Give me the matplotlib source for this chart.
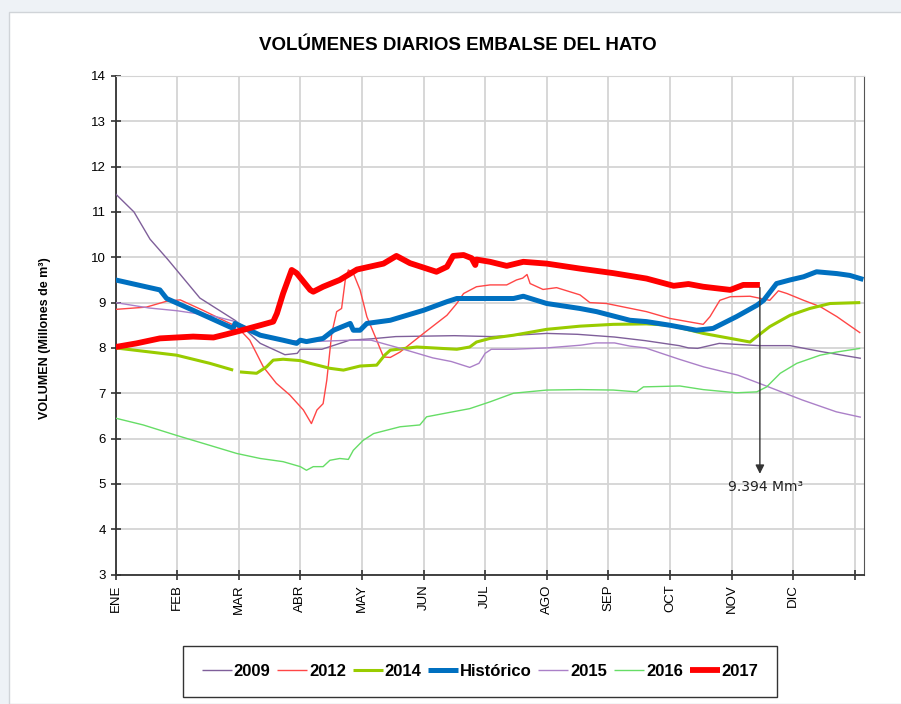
import numpy as np
import matplotlib
matplotlib.use('Agg')
import matplotlib.pyplot as plt
from matplotlib.patches import Rectangle

# months on the x axis (0 = ENE, 12 = end of year)
months = ['ENE', 'FEB', 'MAR', 'ABR', 'MAY', 'JUN', 'JUL', 'AGO', 'SEP', 'OCT', 'NOV', 'DIC', '']

x2009 = [0, 0.3, 0.56, 0.85, 1.37, 1.95, 2.35, 2.75, 2.95, 3.0, 3.35, 3.8, 4.15, 4.55, 5.5, 6.1,
         6.5, 7.0, 7.5, 8.1, 8.6, 9.15, 9.3, 9.45, 9.8, 10.45, 10.95, 11.45, 12.1]
y2009 = [11.4, 11.0, 10.4, 9.95, 9.1, 8.6, 8.1, 7.85, 7.88, 7.97, 7.97, 8.17, 8.2, 8.25, 8.27, 8.25,
         8.28, 8.32, 8.3, 8.24, 8.16, 8.05, 8.0, 7.99, 8.1, 8.05, 8.05, 7.92, 7.77]

x2012 = [0, 0.5, 0.83, 1.05, 1.42, 1.75, 1.97, 2.18, 2.4, 2.61, 2.83, 3.05, 3.18, 3.27, 3.37, 3.43,
         3.51, 3.59, 3.67, 3.73, 3.78, 3.86, 3.97, 4.08, 4.24, 4.35, 4.46, 4.62, 5.0, 5.38, 5.54,
         5.65, 5.86, 6.08, 6.35, 6.51, 6.61, 6.68, 6.73, 6.94, 7.16, 7.54, 7.7, 7.97, 8.62, 9.0,
         9.54, 9.65, 9.81, 9.98, 10.3, 10.62, 10.76, 10.9, 11.17, 11.44, 11.71, 12.09]
y2012 = [8.85, 8.9, 9.03, 9.06, 8.83, 8.61, 8.47, 8.17, 7.58, 7.22, 6.96, 6.63, 6.33, 6.63, 6.77, 7.29,
         8.32, 8.8, 8.87, 9.5, 9.72, 9.65, 9.28, 8.69, 8.17, 7.8, 7.79, 7.91, 8.32, 8.72, 8.98,
         9.2, 9.35, 9.39, 9.39, 9.5, 9.54, 9.62, 9.42, 9.29, 9.33, 9.17, 9.0, 8.98, 8.8, 8.65,
         8.52, 8.69, 9.05, 9.13, 9.14, 9.05, 9.26, 9.2, 9.05, 8.91, 8.69, 8.33]

# 2014 has a short gap in its record just before MAR
x2014 = [0, 0.99, 1.53, 1.91, 1.95, 2.02, 2.29, 2.45, 2.56, 2.72, 3.0, 3.16, 3.48, 3.7, 3.97, 4.24,
         4.37, 4.46, 4.89, 5.54, 5.75, 5.86, 6.08, 6.46, 7.0, 7.54, 8.08, 8.62, 9.0, 9.54, 9.98,
         10.3, 10.41, 10.62, 10.95, 11.27, 11.6, 12.09]
y2014 = [8.0, 7.84, 7.66, 7.51, np.nan, 7.47, 7.44, 7.58, 7.73, 7.75, 7.72, 7.66, 7.55, 7.51, 7.6, 7.62,
         7.84, 7.95, 8.02, 7.97, 8.02, 8.13, 8.21, 8.28, 8.41, 8.48, 8.52, 8.53, 8.5, 8.32, 8.21,
         8.13, 8.25, 8.47, 8.72, 8.87, 8.98, 9.0]

xhist = [0, 0.72, 0.83, 1.26, 1.91, 1.94, 2.35, 2.72, 2.94, 3.0, 3.1, 3.37, 3.54, 3.81, 3.86, 3.97,
         4.08, 4.46, 5.0, 5.38, 5.54, 6.08, 6.46, 6.62, 7.0, 7.54, 7.81, 8.35, 8.62, 9.0, 9.43,
         9.7, 10.08, 10.41, 10.52, 10.73, 10.95, 11.17, 11.38, 11.71, 11.92, 12.14]
yhist = [9.5, 9.28, 9.09, 8.83, 8.43, 8.54, 8.28, 8.17, 8.1, 8.17, 8.14, 8.21, 8.39, 8.54, 8.39, 8.39,
         8.54, 8.61, 8.83, 9.02, 9.09, 9.09, 9.09, 9.14, 8.98, 8.87, 8.8, 8.61, 8.58, 8.5, 8.39,
         8.43, 8.69, 8.94, 9.05, 9.42, 9.5, 9.57, 9.68, 9.64, 9.6, 9.51]

x2015 = [0, 0.55, 1.0, 1.6, 1.95, 2.35, 2.7, 3.2, 3.8, 4.15, 4.6, 5.15, 5.45, 5.75, 5.9, 6.0,
         6.1, 6.45, 7.0, 7.55, 7.8, 8.1, 8.35, 8.6, 9.15, 9.55, 10.1, 10.6, 11.15, 11.7, 12.1]
y2015 = [9.0, 8.88, 8.82, 8.7, 8.58, 8.28, 8.17, 8.14, 8.17, 8.17, 8.0, 7.78, 7.7, 7.57, 7.66, 7.88,
         7.97, 7.97, 8.0, 8.06, 8.11, 8.11, 8.04, 8.0, 7.75, 7.58, 7.4, 7.14, 6.85, 6.59, 6.47]

x2016 = [0, 0.45, 0.99, 1.53, 1.97, 2.35, 2.72, 3.0, 3.1, 3.21, 3.37, 3.48, 3.64, 3.78, 3.86, 4.02,
         4.19, 4.62, 4.94, 5.05, 5.32, 5.75, 6.08, 6.46, 7.0, 7.54, 8.08, 8.46, 8.57, 9.16, 9.54,
         10.08, 10.41, 10.57, 10.79, 11.06, 11.44, 11.71, 12.09]
y2016 = [6.45, 6.3, 6.07, 5.85, 5.67, 5.56, 5.49, 5.38, 5.3, 5.38, 5.38, 5.52, 5.56, 5.54, 5.74, 5.96,
         6.11, 6.26, 6.3, 6.48, 6.55, 6.66, 6.81, 7.0, 7.07, 7.08, 7.07, 7.03, 7.14, 7.16, 7.08,
         7.01, 7.03, 7.14, 7.44, 7.66, 7.84, 7.91, 7.99]

x2017 = [0, 0.34, 0.72, 1.26, 1.59, 1.8, 1.97, 2.35, 2.56, 2.62, 2.72, 2.86, 2.94, 3.16, 3.21, 3.37,
         3.64, 3.92, 4.35, 4.56, 4.78, 5.21, 5.38, 5.48, 5.65, 5.78, 5.84, 5.86, 6.08, 6.35, 6.62,
         7.0, 7.54, 8.08, 8.62, 9.06, 9.3, 9.54, 9.98, 10.19, 10.46]
y2017 = [8.02, 8.1, 8.21, 8.25, 8.23, 8.3, 8.36, 8.5, 8.58, 8.76, 9.2, 9.72, 9.65, 9.28, 9.24, 9.35,
         9.5, 9.73, 9.86, 10.03, 9.87, 9.68, 9.79, 10.03, 10.05, 9.98, 9.83, 9.95, 9.9, 9.81, 9.9,
         9.86, 9.75, 9.65, 9.53, 9.37, 9.41, 9.35, 9.28, 9.39, 9.39]

last_value = 9.394
last_month = 10.46

fig = plt.figure(figsize=(9.01, 7.04), dpi=100)
fig.patch.set_facecolor('#eef2f6')
# white panel behind the chart
fig.patches.append(Rectangle((9 / 901, 0), 1, 1 - 12 / 704, transform=fig.transFigure,
                             facecolor='white', edgecolor='#d0d4d8', lw=1, zorder=-5))

ax = fig.add_axes([115.5 / 901, 1 - 574.5 / 704, (864 - 115.5) / 901, (574.5 - 76) / 704])
ax.set_facecolor('white')

series = [
    (x2009, y2009, '2009', '#7f5f9a', 1.0),
    (x2012, y2012, '2012', '#ff4646', 1.0),
    (x2014, y2014, '2014', '#99cc00', 2.2),
    (xhist, yhist, 'Histórico', '#0070c0', 3.6),
    (x2015, y2015, '2015', '#ab80c8', 1.0),
    (x2016, y2016, '2016', '#66dd66', 1.0),
    (x2017, y2017, '2017', '#ff0000', 4.2),
]
for xs, ys, name, col, lw in series:
    z = 4 if name == 'Histórico' else (5 if name == '2017' else 3)
    ax.plot(xs, ys, color=col, lw=lw, label=name, zorder=z, solid_capstyle='butt')

ax.set_xlim(0, 12.15)
ax.set_ylim(3, 14)
ax.set_xticks(np.arange(13))
ax.set_xticklabels(months, rotation=90, fontsize=9.5, family='Liberation Sans')
ax.set_yticks(np.arange(3, 15))
ax.tick_params(axis='y', labelsize=9.5, direction='inout', length=7, width=1.2, color='#333333')
ax.tick_params(axis='x', direction='inout', length=7, width=1.2, color='#333333')
for lab in ax.get_yticklabels():
    lab.set_family('Liberation Sans')
ax.grid(True, color='#d4d4d4', lw=1.3)
ax.set_axisbelow(True)
for s in ['left', 'bottom']:
    ax.spines[s].set_color('#333333')
    ax.spines[s].set_linewidth(1.3)
ax.spines['right'].set_color('#555555')
ax.spines['top'].set_color('#d4d4d4')

# arrow and value of the last 2017 reading
ax.annotate('', xy=(last_month, 5.16), xytext=(last_month, last_value),
            arrowprops=dict(arrowstyle='-|>', color='#333333', lw=1, mutation_scale=13), zorder=6)
ax.text(last_month + 0.1, 4.93, '9.394 Mm³', ha='center', va='center', fontsize=10,
        family='DejaVu Sans', color='#222222')

fig.text(458 / 901, 1 - 45 / 704, 'VOLÚMENES DIARIOS EMBALSE DEL HATO', ha='center', va='center',
         fontsize=13.5, fontweight='bold', family='Liberation Sans')
fig.text(45 / 901, 1 - 338 / 704, 'VOLUMEN (Millones de m³)', rotation=90, ha='center', va='center',
         fontsize=9, fontweight='bold', family='Liberation Sans')

leg = fig.legend(loc='center', bbox_to_anchor=(480 / 901, 1 - 671.5 / 704), ncol=7,
                 prop={'family': 'Liberation Sans', 'weight': 'bold', 'size': 12},
                 handlelength=1.8, handletextpad=0.12, columnspacing=0.4,
                 frameon=True, fancybox=False, borderpad=1.1)
leg.get_frame().set_edgecolor('black')
leg.get_frame().set_linewidth(1)

fig.savefig('out.png', dpi=100, facecolor=fig.get_facecolor())
